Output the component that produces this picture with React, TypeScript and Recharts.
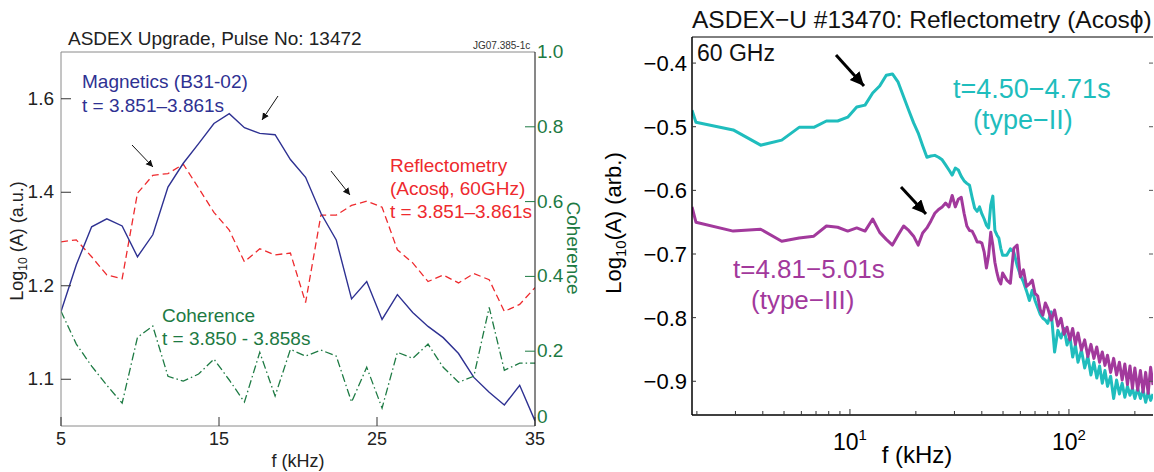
import React from "react";
import { LineChart, Line, XAxis, YAxis } from "recharts";

const FONT = "'Liberation Sans', Arial, Helvetica, sans-serif";

// ---- left panel: ASDEX Upgrade pulse 13472 ----
const freqL = [
  5, 5.97, 6.94, 7.9, 8.87, 9.84, 10.81, 11.77, 12.74, 13.71, 14.68, 15.65, 16.61, 17.58, 18.55, 19.52,
  20.48, 21.45, 22.42, 23.39, 24.35, 25.32, 26.29, 27.26, 28.23, 29.19, 30.16, 31.13, 32.1, 33.06, 34.03, 35,
];
const magnetics = [
  1.145, 1.245, 1.326, 1.343, 1.328, 1.262, 1.309, 1.411, 1.462, 1.504, 1.547, 1.568, 1.538, 1.526, 1.523, 1.47,
  1.432, 1.355, 1.298, 1.172, 1.209, 1.128, 1.181, 1.143, 1.113, 1.089, 1.055, 1.004, 0.972, 0.945, 0.987, 0.911,
];
const reflectometry = [
  1.294, 1.298, 1.262, 1.223, 1.215, 1.398, 1.436, 1.44, 1.46, 1.409, 1.357, 1.319, 1.251, 1.279, 1.266, 1.27,
  1.164, 1.351, 1.351, 1.372, 1.381, 1.368, 1.277, 1.249, 1.209, 1.223, 1.206, 1.226, 1.213, 1.145, 1.16, 1.196,
];
const coherence = [
  0.307, 0.219, 0.16, 0.109, 0.061, 0.237, 0.267, 0.133, 0.12, 0.139, 0.179, 0.123, 0.064, 0.197, 0.08, 0.205,
  0.187, 0.203, 0.187, 0.064, 0.157, 0.048, 0.197, 0.181, 0.219, 0.157, 0.117, 0.133, 0.317, 0.149, 0.168, 0.168,
];
const fTicksL = [5, 15, 25, 35];
const ampTicksL = [1.0, 1.2, 1.4, 1.6];
const ampTickLabelsL = ["1.1", "1.2", "1.4", "1.6"];
const cohTicks = [0, 0.2, 0.4, 0.6, 0.8, 1.0];
const cohTickLabels = ["0", "0.2", "0.4", "0.6", "0.8", "1.0"];

// ---- right panel: ASDEX-U #13470 reflectometry ----
const freqR = [
  1.9, 1.98, 2.93, 3.91, 4.88, 5.86, 6.84, 7.81, 8.79, 9.77, 10.74, 11.72, 12.7, 13.67, 14.65, 15.63, 16.6,
  17.58, 18.55, 19.53, 20.5, 21.48, 22.46, 23.43, 24.41, 25.39, 26.37, 27.34, 28.32, 29.3, 30.27, 31.25, 32.23,
  33.2, 34.18, 35.16, 36.13, 37.11, 38.09, 39.06, 40.04, 41.02, 42.0, 42.97, 43.95, 44.92, 45.9, 46.88, 47.85,
  48.83, 49.8, 52, 54, 56, 58, 60, 62, 64, 66, 68, 70, 72, 74, 76, 78, 80, 83, 86, 89, 92, 95, 98, 101, 104,
  107, 110, 114, 118, 122, 126, 130, 134, 138, 142, 146, 150, 155, 160, 165, 170, 175, 180, 185, 190, 195, 200,
  206, 212, 218, 224, 230, 236, 242,
];
const typeII = [
  -0.474, -0.493, -0.505, -0.529, -0.521, -0.501, -0.501, -0.491, -0.491, -0.485, -0.469, -0.466, -0.447,
  -0.436, -0.419, -0.417, -0.43, -0.453, -0.474, -0.494, -0.51, -0.53, -0.548, -0.546, -0.545, -0.548, -0.552,
  -0.56, -0.568, -0.576, -0.565, -0.568, -0.578, -0.585, -0.589, -0.592, -0.611, -0.628, -0.633, -0.626, -0.637,
  -0.645, -0.655, -0.659, -0.623, -0.609, -0.663, -0.67, -0.675, -0.691, -0.702,
  -0.702, -0.692, -0.697, -0.718, -0.733, -0.744, -0.758, -0.773, -0.757, -0.773, -0.784, -0.795, -0.801, -0.804, -0.809,
  -0.791, -0.854, -0.82, -0.832, -0.817, -0.843, -0.829, -0.862, -0.843, -0.87,
  -0.851, -0.879, -0.861, -0.89, -0.87, -0.895, -0.876, -0.903, -0.883, -0.908,
  -0.892, -0.927, -0.898, -0.92, -0.903, -0.925, -0.908, -0.922, -0.911, -0.927,
  -0.911, -0.927, -0.914, -0.933, -0.917, -0.93, -0.92,
];
const typeIII = [
  -0.626, -0.65, -0.664, -0.661, -0.68, -0.675, -0.672, -0.656, -0.658, -0.664, -0.659, -0.664, -0.645,
  -0.666, -0.677, -0.686, -0.67, -0.656, -0.663, -0.672, -0.686, -0.667, -0.659, -0.648, -0.636, -0.63, -0.626,
  -0.62, -0.626, -0.608, -0.626, -0.614, -0.611, -0.636, -0.656, -0.663, -0.664, -0.672, -0.681, -0.681, -0.683,
  -0.697, -0.722, -0.702, -0.666, -0.686, -0.713, -0.729, -0.741, -0.747, -0.73,
  -0.741, -0.746, -0.691, -0.686, -0.736, -0.725, -0.751, -0.747, -0.741, -0.762, -0.766, -0.788, -0.796, -0.777, -0.785,
  -0.804, -0.788, -0.813, -0.801, -0.826, -0.815, -0.835, -0.817, -0.842, -0.824,
  -0.851, -0.835, -0.861, -0.842, -0.864, -0.846, -0.87, -0.854, -0.875, -0.859,
  -0.886, -0.864, -0.89, -0.87, -0.898, -0.873, -0.905, -0.876, -0.911, -0.879,
  -0.914, -0.883, -0.917, -0.886, -0.919, -0.878, -0.906,
];
const ampTicksR = [-0.9, -0.8, -0.7, -0.6, -0.5, -0.4];
const fTicksR = [2, 3, 4, 5, 6, 7, 8, 9, 10, 20, 30, 40, 50, 60, 70, 80, 90, 100, 200];
const fMajorR = [10, 100];
const fMajorExp = ["1", "2"];

const leftData = freqL.map((f, i) => ({ f, mag: magnetics[i], refl: reflectometry[i], coh: coherence[i] }));
const rightData = freqR.map((f, i) => ({ f, t2: typeII[i], t3: typeIII[i] }));

const BLUE = "#2e3192";
const RED = "#ee2a2e";
const GREEN = "#1d7a43";
const CYAN = "#1fbdbd";
const MAGENTA = "#a2399c";

function LeftXTick({ x, y, payload }: any) {
  return (
    <g>
      <line x1={x} x2={x} y1={y} y2={y - 9} stroke="#333" />
      <text x={x} y={y + 19} textAnchor="middle" fontSize={18} fontFamily={FONT} fill="#222">
        {payload.value}
      </text>
    </g>
  );
}

function LeftYTick({ x, y, payload }: any) {
  const label = ampTickLabelsL[ampTicksL.indexOf(payload.value)];
  return (
    <g>
      <line x1={x} x2={x + 10} y1={y} y2={y} stroke="#333" />
      <text x={x - 7} y={y + 6} textAnchor="end" fontSize={19} fontFamily={FONT} fill="#222">
        {label}
      </text>
    </g>
  );
}

function CohTick({ x, y, payload }: any) {
  const v = payload.value;
  const label = cohTickLabels[cohTicks.indexOf(v)];
  const inner = v > 0 && v < 1;
  return (
    <g>
      {inner && <line x1={x - 10} x2={x} y1={y} y2={y} stroke={GREEN} />}
      <text x={x + 2} y={v === 0 ? y - 3 : y + 6} textAnchor="start" fontSize={19} fontFamily={FONT} fill={GREEN}>
        {label}
      </text>
    </g>
  );
}

function RightYTick({ x, y, payload }: any) {
  const v = payload.value;
  return (
    <g>
      <line x1={x} x2={x + 4} y1={y} y2={y} stroke="#333" />
      <text x={x - 5} y={y + 8} textAnchor="end" fontSize={22} fontFamily={FONT} fill="#000">
        {"\u2212" + Math.abs(v).toFixed(1)}
      </text>
    </g>
  );
}

function RightEdgeTick({ x, y }: any) {
  return <line x1={x - 4} x2={x} y1={y} y2={y} stroke="#555" />;
}

function RightXTick({ x, y, payload }: any) {
  const k = fMajorR.indexOf(payload.value);
  return (
    <g>
      <line x1={x} x2={x} y1={y} y2={y - (k >= 0 ? 6 : 4)} stroke="#333" />
      {k >= 0 && (
        <text x={x} y={y + 35} textAnchor="middle" fontSize={23} fontFamily={FONT} fill="#000">
          10
          <tspan dy={-10} fontSize={15}>
            {fMajorExp[k]}
          </tspan>
        </text>
      )}
    </g>
  );
}

function TopXTick({ x, y, payload }: any) {
  const major = fMajorR.indexOf(payload.value) >= 0;
  return <line x1={x} x2={x} y1={y} y2={y + (major ? 6 : 4)} stroke="#333" />;
}

export default function App() {
  return (
    <div
      style={{
        position: "absolute",
        left: 0,
        top: 0,
        width: 1154,
        height: 472,
        background: "#fff",
        overflow: "hidden",
        fontFamily: FONT,
      }}
    >
      <div style={{ position: "absolute", left: 0, top: 0 }}>
        <LineChart width={600} height={472} data={leftData} margin={{ top: 22, right: 0, bottom: 0, left: 0 }}>
          <XAxis
            dataKey="f"
            type="number"
            domain={[5, 35]}
            allowDataOverflow
            ticks={fTicksL}
            interval={0}
            height={46}
            tickSize={0}
            tickMargin={0}
            tickLine={false}
            tick={<LeftXTick />}
            axisLine={{ stroke: "#8a8a8a" }}
          />
          <XAxis
            xAxisId="top"
            orientation="top"
            type="number"
            domain={[5, 35]}
            allowDataOverflow
            height={30}
            tick={false}
            tickLine={false}
            axisLine={{ stroke: "#8a8a8a" }}
          />
          <YAxis
            type="number"
            domain={[0.9, 1.7]}
            allowDataOverflow
            ticks={ampTicksL}
            interval={0}
            width={61}
            tickSize={0}
            tickMargin={0}
            tickLine={false}
            tick={<LeftYTick />}
            axisLine={{ stroke: "#8a8a8a" }}
          />
          <YAxis
            yAxisId="coh"
            orientation="right"
            type="number"
            domain={[0, 1]}
            allowDataOverflow
            ticks={cohTicks}
            interval={0}
            width={65}
            tickSize={0}
            tickMargin={0}
            tickLine={false}
            tick={<CohTick />}
            axisLine={{ stroke: "#111" }}
          />
          <Line
            dataKey="refl"
            type="linear"
            stroke={RED}
            strokeWidth={1.3}
            strokeDasharray="7 4"
            dot={false}
            isAnimationActive={false}
          />
          <Line dataKey="mag" type="linear" stroke={BLUE} strokeWidth={1.4} dot={false} isAnimationActive={false} />
          <Line
            dataKey="coh"
            yAxisId="coh"
            type="linear"
            stroke={GREEN}
            strokeWidth={1.3}
            strokeDasharray="8 3 1.5 3"
            dot={false}
            isAnimationActive={false}
          />
        </LineChart>
      </div>

      <div style={{ position: "absolute", left: 600, top: 0 }}>
        <LineChart width={554} height={472} data={rightData} margin={{ top: 7, right: 0, bottom: 0, left: 0 }}>
          <XAxis
            dataKey="f"
            type="number"
            scale="log"
            domain={[1.9, 242]}
            allowDataOverflow
            ticks={fTicksR}
            interval={0}
            height={57}
            tickSize={0}
            tickMargin={0}
            tickLine={false}
            tick={<RightXTick />}
            axisLine={{ stroke: "#000", strokeWidth: 1.5 }}
          />
          <XAxis
            xAxisId="top"
            orientation="top"
            type="number"
            scale="log"
            domain={[1.9, 242]}
            allowDataOverflow
            ticks={fTicksR}
            interval={0}
            height={30}
            tickSize={0}
            tickMargin={0}
            tickLine={false}
            tick={<TopXTick />}
            axisLine={{ stroke: "#000" }}
          />
          <YAxis
            type="number"
            domain={[-0.953, -0.359]}
            allowDataOverflow
            ticks={ampTicksR}
            interval={0}
            width={92}
            tickSize={0}
            tickMargin={0}
            tickLine={false}
            tick={<RightYTick />}
            axisLine={{ stroke: "#000", strokeWidth: 1.5 }}
          />
          <YAxis
            yAxisId="edge"
            orientation="right"
            type="number"
            domain={[-0.953, -0.359]}
            allowDataOverflow
            ticks={ampTicksR}
            interval={0}
            width={1}
            tickSize={0}
            tickMargin={0}
            tickLine={false}
            axisLine={false}
            tick={<RightEdgeTick />}
          />
          <Line
            dataKey="t2"
            type="linear"
            stroke={CYAN}
            strokeWidth={3}
            strokeLinejoin="round"
            dot={false}
            isAnimationActive={false}
          />
          <Line
            dataKey="t3"
            type="linear"
            stroke={MAGENTA}
            strokeWidth={3}
            strokeLinejoin="round"
            dot={false}
            isAnimationActive={false}
          />
        </LineChart>
      </div>

      <svg
        width={1154}
        height={472}
        style={{ position: "absolute", left: 0, top: 0, pointerEvents: "none" }}
        fontFamily={FONT}
      >
        <defs>
          <marker id="thinHead" markerWidth="8" markerHeight="8" refX="7" refY="3.5" orient="auto" markerUnits="userSpaceOnUse">
            <path d="M0,0 L7,3.5 L0,7 z" fill="#111" />
          </marker>
          <marker id="boldHead" markerWidth="16" markerHeight="14" refX="14" refY="6.5" orient="auto" markerUnits="userSpaceOnUse">
            <path d="M0,0 L14,6.5 L0,13 z" fill="#000" />
          </marker>
        </defs>

        {/* left panel texts */}
        <text x={68} y={45} fontSize={19} fill="#222">
          ASDEX Upgrade, Pulse No: 13472
        </text>
        <text x={473} y={49} fontSize={10} fill="#333">
          JG07.385-1c
        </text>
        <text x={82} y={88} fontSize={19} fill={BLUE}>
          Magnetics (B31-02)
        </text>
        <text x={82} y={112} fontSize={19} fill={BLUE}>
          t = 3.851–3.861s
        </text>
        <text x={390} y={172} fontSize={19} fill={RED}>
          Reflectometry
        </text>
        <text x={390} y={195} fontSize={19} fill={RED}>
          (Acosϕ, 60GHz)
        </text>
        <text x={390} y={218} fontSize={19} fill={RED}>
          t = 3.851–3.861s
        </text>
        <text x={162} y={322} fontSize={19} fill={GREEN}>
          Coherence
        </text>
        <text x={162} y={345} fontSize={19} fill={GREEN}>
          t = 3.850 - 3.858s
        </text>
        <text x={298} y={467} fontSize={18} fill="#222" textAnchor="middle">
          f (kHz)
        </text>
        <text transform="translate(23,241) rotate(-90)" fontSize={18} fill="#222" textAnchor="middle">
          Log
          <tspan dy={4} fontSize={12}>
            10
          </tspan>
          <tspan dy={-4}> (A) (a.u.)</tspan>
        </text>
        <text transform="translate(567,248) rotate(90)" fontSize={19} fill={GREEN} textAnchor="middle">
          Coherence
        </text>
        <line x1={132} y1={145} x2={153} y2={167} stroke="#111" strokeWidth={1} markerEnd="url(#thinHead)" />
        <line x1={278} y1={96} x2={262} y2={120} stroke="#111" strokeWidth={1} markerEnd="url(#thinHead)" />
        <line x1={331} y1={171} x2={350} y2={195} stroke="#111" strokeWidth={1} markerEnd="url(#thinHead)" />

        {/* right panel texts */}
        <text x={692} y={28} fontSize={24.5} fill="#111">
          ASDEX−U #13470: Reflectometry (Acosϕ)
        </text>
        <text x={697} y={61} fontSize={23} fill="#111">
          60 GHz
        </text>
        <text x={953} y={98} fontSize={27} fill={CYAN}>
          t=4.50−4.71s
        </text>
        <text x={973} y={129} fontSize={27} fill={CYAN}>
          (type−II)
        </text>
        <text x={733} y={278} fontSize={26} fill={MAGENTA}>
          t=4.81−5.01s
        </text>
        <text x={751} y={309} fontSize={26} fill={MAGENTA}>
          (type−III)
        </text>
        <text x={917} y={463} fontSize={24} fill="#000" textAnchor="middle">
          f (kHz)
        </text>
        <text transform="translate(621,223) rotate(-90)" fontSize={22} fill="#000" textAnchor="middle">
          Log
          <tspan dy={5} fontSize={15}>
            10
          </tspan>
          <tspan dy={-5}>(A) (arb.)</tspan>
        </text>
        <line x1={836} y1={55} x2={864} y2={86} stroke="#000" strokeWidth={3} markerEnd="url(#boldHead)" />
        <line x1={901} y1={187} x2={926} y2={214} stroke="#000" strokeWidth={3} markerEnd="url(#boldHead)" />
      </svg>
    </div>
  );
}
